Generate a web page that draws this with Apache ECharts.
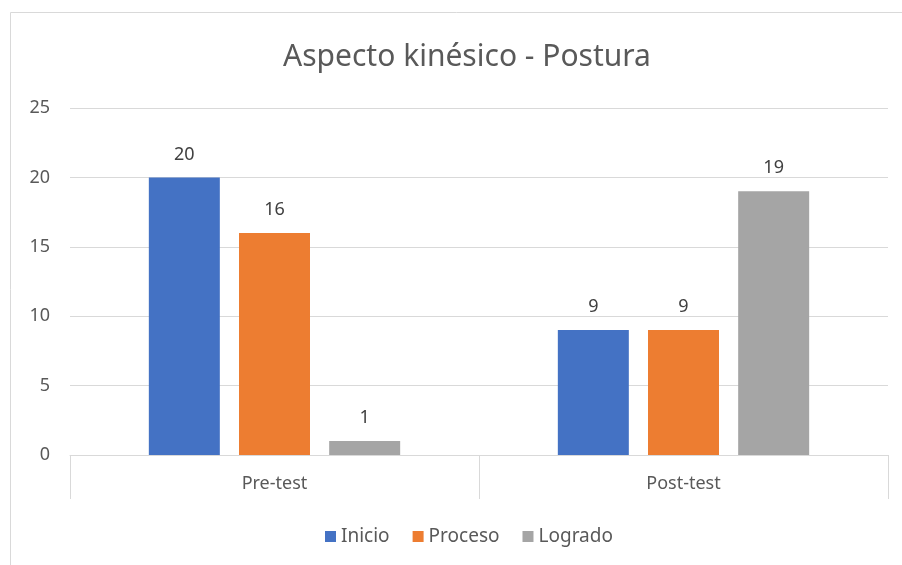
<!DOCTYPE html>
<html><head><meta charset="utf-8">
<script src="https://cdn.jsdelivr.net/npm/echarts@6/dist/echarts.min.js"></script>
<style>html,body{margin:0;padding:0;background:#fff}#c{width:902px;height:565px}</style>
</head><body><div id="c"></div>
<script>
const categories = ['Pre-test', 'Post-test'];
const inicio = [20, 9];
const proceso = [16, 9];
const logrado = [1, 19];
const seriesNames = ['Inicio', 'Proceso', 'Logrado'];
const colors = ['#4472C4', '#ED7D31', '#A5A5A5'];
const FONT = '"Noto Sans", sans-serif';

const chart = echarts.init(document.getElementById('c'));
const mk = (name, data, color) => ({
  name, type: 'bar', data, barWidth: 71, barGap: '27%',
  itemStyle: { color },
  label: { show: true, position: 'top', distance: 14, color: '#404040', fontSize: 18, fontFamily: FONT },
  emphasis: { disabled: true }
});
chart.setOption({
  animation: false,
  graphic: [{ type: 'rect', shape: { x: 10.5, y: 12.5, width: 1000, height: 1000 }, style: { fill: 'none', stroke: '#d9d9d9', lineWidth: 1 }, silent: true }],
  title: { text: 'Aspecto kinésico - Postura', left: 462, top: 37, textAlign: 'center',
    textStyle: { fontFamily: FONT, fontSize: 30, fontWeight: 'normal', color: '#595959' } },
  legend: { data: seriesNames, left: 320, top: 522, itemWidth: 11, itemHeight: 11, itemGap: 23, icon: 'rect',
    textStyle: { fontFamily: FONT, fontSize: 19, color: '#595959' } },
  grid: { left: 70, right: 14, top: 108, bottom: 110, containLabel: false },
  xAxis: { type: 'category', data: categories,
    axisLine: { lineStyle: { color: '#d9d9d9' } },
    axisTick: { show: true, length: 44, lineStyle: { color: '#d9d9d9' } },
    axisLabel: { fontFamily: FONT, fontSize: 18, color: '#595959', margin: 20 } },
  yAxis: { type: 'value', min: 0, max: 25, interval: 5,
    axisLine: { show: false }, axisTick: { show: false },
    splitLine: { lineStyle: { color: '#d9d9d9' } },
    axisLabel: { fontFamily: FONT, fontSize: 18, color: '#595959', margin: 20 } },
  series: [mk(seriesNames[0], inicio, colors[0]), mk(seriesNames[1], proceso, colors[1]), mk(seriesNames[2], logrado, colors[2])]
});
</script></body></html>
